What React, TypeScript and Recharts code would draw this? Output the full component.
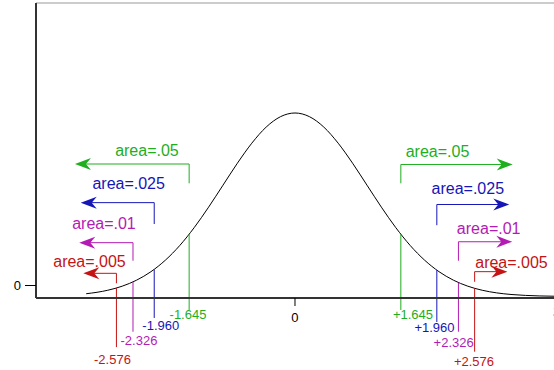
import React from 'react'
import { ComposedChart, Line, XAxis, YAxis, ReferenceLine, ReferenceDot } from 'recharts'

// normal curve, heights
const curveZ = [-2.9, -2.6, -2.4, -2.2, -2.0, -1.8, -1.6, -1.4, -1.2, -1.0, -0.8, -0.6, -0.4, -0.2, 0,
  0.2, 0.4, 0.6, 0.8, 1.0, 1.2, 1.4, 1.6, 1.8, 2.0, 2.2, 2.4, 2.6, 2.8, 3.0, 3.2, 3.4, 3.6, 3.8]
const curveDensity = [0.006, 0.0136, 0.0224, 0.0355, 0.054, 0.079, 0.1109, 0.1497, 0.1942, 0.242, 0.2897, 0.3332, 0.3683, 0.391, 0.3989,
  0.391, 0.3683, 0.3332, 0.2897, 0.242, 0.1942, 0.1497, 0.1109, 0.079, 0.054, 0.0355, 0.0224, 0.0136, 0.0079, 0.0044, 0.0024, 0.0012, 0.0006, 0.0003]

// critical values (positions as drawn in the figure)
const criticalLabels = ['-2.576', '-2.326', '-1.960', '-1.645', '+1.645', '+1.960', '+2.326', '+2.576']
const criticalZ = [-2.48, -2.25, -1.955, -1.47, 1.47, 1.97, 2.27, 2.495]
const criticalHeight = [0.0184, 0.0317, 0.059, 0.1354, 0.1354, 0.0573, 0.0303, 0.0177]
const tailAreas = ['area=.005', 'area=.01', 'area=.025', 'area=.05', 'area=.05', 'area=.025', 'area=.01', 'area=.005']

const xTicks = [0]
const yTicks = [0]

const markColors = ['#c41414', '#b41ab4', '#1616b8', '#1eae1e', '#1eae1e', '#1616b8', '#b41ab4', '#c41414']

// annotation placement in axis units
const notes = [
  { low: 0.0287, high: 0.0504, tip: -2.94, area: [-2.854, 0.075], end: -0.11, value: [-2.535, -0.137] },
  { low: 0.0778, high: 0.117, tip: -2.996, area: [-2.653, 0.1576], end: -0.0765, value: [-2.167, -0.0957] },
  { low: 0.1576, high: 0.204, tip: -2.976, area: [-2.31, 0.2446], end: -0.0467, value: [-1.864, -0.062] },
  { low: 0.246, high: 0.288, tip: -3.056, area: [-2.056, 0.317], end: -0.0293, value: [-1.486, -0.039] },
  { low: 0.246, high: 0.287, tip: 3.024, area: [1.979, 0.316], end: -0.0293, value: [1.639, -0.039] },
  { low: 0.155, high: 0.2, tip: 2.976, area: [2.4, 0.2337], end: -0.0554, value: [1.9375, -0.0674] },
  { low: 0.0778, high: 0.119, tip: 3.018, area: [2.69, 0.148], end: -0.0765, value: [2.204, -0.101] },
  { low: 0.032, high: 0.054, tip: 2.95, area: [3.007, 0.0735], end: -0.12, value: [2.486, -0.141] },
]

const FONT = '"Liberation Sans", Arial, Helvetica, sans-serif'

const arrowHead = (dir: number, color: string) => (props: any) => {
  const { cx, cy } = props
  const L = 16, H = 6, N = 11
  const pts = [[cx, cy], [cx - dir * L, cy - H], [cx - dir * N, cy], [cx - dir * L, cy + H]]
  return <polygon points={pts.map(p => p.join(',')).join(' ')} fill={color} />
}

const textMark = (text: string, color: string, size: number, weight = 'normal') => (props: any) => (
  <text x={props.cx} y={props.cy} textAnchor="middle" dominantBaseline="central"
    fill={color} fontSize={size} fontWeight={weight} fontFamily={FONT}>{text}</text>
)

export default function App() {
  const data = curveZ.map((z, i) => ({ z, density: curveDensity[i] }))

  return (
    <div style={{ position: 'absolute', left: 0, top: 0, width: 554, height: 370, overflow: 'hidden', background: '#fff' }}>
      <ComposedChart width={580} height={370} data={data} margin={{ top: 3, right: 15, left: 0, bottom: 42 }}>
        <XAxis dataKey="z" type="number" domain={[-3.597, 3.75]} allowDataOverflow ticks={xTicks}
          height={30} tickSize={8} tickMargin={7}
          axisLine={{ stroke: '#333', strokeWidth: 2 }} tickLine={{ stroke: '#000' }}
          tick={{ fill: '#000', fontSize: 13, fontFamily: FONT }} />
        <YAxis yAxisId="frame" type="number" domain={[-1, 22.6]} allowDataOverflow ticks={yTicks}
          width={36} tickSize={11} tickMargin={4}
          axisLine={{ stroke: '#333', strokeWidth: 2 }} tickLine={{ stroke: '#000' }}
          tick={{ fill: '#000', fontSize: 13, fontFamily: FONT }} />
        <YAxis yAxisId="pdf" type="number" domain={[-0.00326, 0.638]} allowDataOverflow hide />

        <ReferenceLine yAxisId="frame" y={22.6} stroke="#999" strokeWidth={1} ifOverflow="visible" />

        <Line yAxisId="pdf" dataKey="density" type="monotone" stroke="#000" strokeWidth={1}
          dot={false} activeDot={false} isAnimationActive={false} />

        {notes.flatMap((n, i) => {
          const c = markColors[i]
          const x = criticalZ[i]
          const dir = x < 0 ? -1 : 1
          return [
            <ReferenceLine key={`v${i}`} yAxisId="pdf" ifOverflow="visible" stroke={c} strokeWidth={1}
              segment={[{ x, y: criticalHeight[i] }, { x, y: n.end }]} />,
            <ReferenceLine key={`b${i}`} yAxisId="pdf" ifOverflow="visible" stroke={c} strokeWidth={1}
              segment={[{ x, y: n.low }, { x, y: n.high }]} />,
            <ReferenceLine key={`h${i}`} yAxisId="pdf" ifOverflow="visible" stroke={c} strokeWidth={1}
              segment={[{ x, y: n.high }, { x: n.tip - dir * 0.1, y: n.high }]} />,
            <ReferenceDot key={`a${i}`} yAxisId="pdf" ifOverflow="visible" x={n.tip} y={n.high}
              shape={arrowHead(dir, c)} />,
            <ReferenceDot key={`t${i}`} yAxisId="pdf" ifOverflow="visible" x={n.area[0]} y={n.area[1]}
              shape={textMark(tailAreas[i], c, 16)} />,
            <ReferenceDot key={`l${i}`} yAxisId="pdf" ifOverflow="visible" x={n.value[0]} y={n.value[1]}
              shape={textMark(criticalLabels[i], c, 13)} />,
          ]
        })}

        <ReferenceDot yAxisId="pdf" ifOverflow="visible" x={3.64} y={-0.0315}
          shape={textMark('z', '#000', 15, 'bold')} />
      </ComposedChart>
    </div>
  )
}
